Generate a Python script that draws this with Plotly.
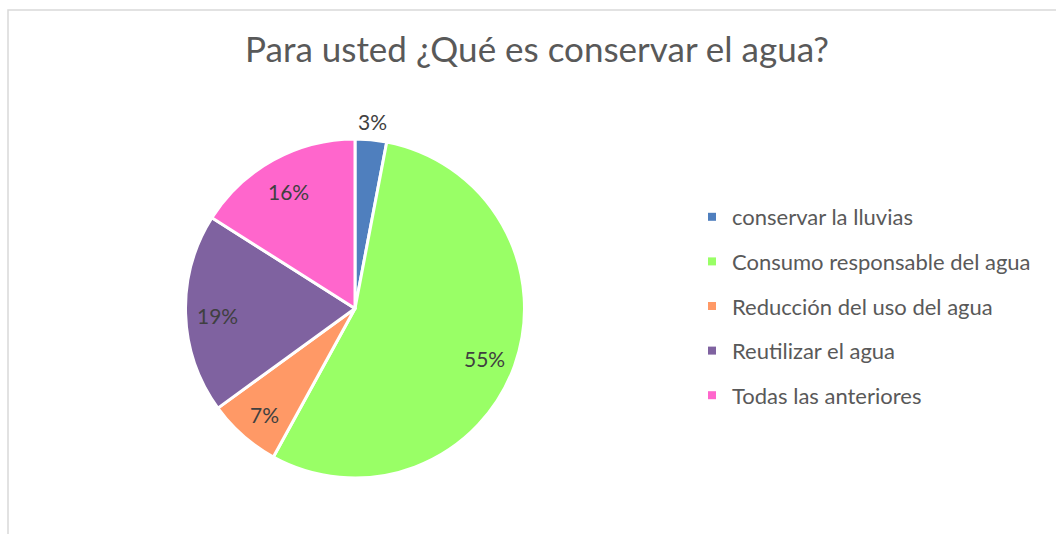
import math
import plotly.graph_objects as go

# Survey answers and their share of responses (%)
categories = [
    "conservar la lluvias",
    "Consumo responsable del agua",
    "Reducción del uso del agua",
    "Reutilizar el agua",
    "Todas las anteriores",
]
shares = [3, 55, 7, 19, 16]
colors = ["#4F7FBE", "#99FF66", "#FF9966", "#7F62A0", "#FF66CC"]
label_outside = [True, False, False, False, False]

W, H = 1056, 534
FONT = "Lato"
GREY = "#595959"
LABEL_GREY = "#404040"

# Pie placement (pixels)
pie_x0, pie_x1 = 185, 525
pie_top, pie_bottom = 139, 478
cx = (pie_x0 + pie_x1) / 2
cy = (pie_top + pie_bottom) / 2
radius = min(pie_x1 - pie_x0, pie_bottom - pie_top) / 2

fig = go.Figure()

fig.add_trace(go.Pie(
    labels=categories,
    values=shares,
    sort=False,
    direction="clockwise",
    rotation=0,
    marker=dict(colors=colors, line=dict(color="white", width=3)),
    textinfo="none",
    hoverinfo="label+percent",
    showlegend=False,
    domain=dict(x=[pie_x0 / W, pie_x1 / W], y=[1 - pie_bottom / H, 1 - pie_top / H]),
))

# Data labels placed along each slice's bisector
total = sum(shares)
annotations = []
cum = 0
for val, outside in zip(shares, label_outside):
    mid = (cum + val / 2) / total * 2 * math.pi  # clockwise from 12 o'clock
    cum += val
    r = radius * (1.11 if outside else 0.81)
    px = cx + r * math.sin(mid)
    py = cy - r * math.cos(mid) + (0 if outside else 3)
    annotations.append(dict(
        x=px / W, y=1 - py / H, xref="paper", yref="paper",
        text=f"{val}%", showarrow=False,
        xanchor="center", yanchor="middle",
        font=dict(family=FONT, size=21, color=LABEL_GREY),
    ))

# Legend entries: one group per category so the spacing can be controlled
for name, col in zip(categories, colors):
    fig.add_trace(go.Scatter(
        x=[None], y=[None], mode="markers", name=name,
        legendgroup=name,
        marker=dict(symbol="square", size=8, color=col),
        hoverinfo="skip",
    ))

fig.update_layout(
    width=W, height=H,
    margin=dict(l=0, r=0, t=0, b=0),
    paper_bgcolor="white",
    plot_bgcolor="white",
    xaxis=dict(visible=False),
    yaxis=dict(visible=False),
    title=dict(
        text="Para usted ¿Qué es conservar el agua?",
        x=537 / W, xanchor="center",
        y=1 - 50 / H, yanchor="middle",
        font=dict(family=FONT, size=35, color=GREY),
    ),
    legend=dict(
        x=692 / W, xanchor="left",
        y=1 - 196 / H, yanchor="top",
        font=dict(family=FONT, size=22, color=GREY),
        tracegroupgap=13,
        itemwidth=30,
        bgcolor="rgba(0,0,0,0)",
    ),
    annotations=annotations,
    shapes=[dict(
        type="rect", xref="paper", yref="paper",
        x0=8 / W, x1=1.01, y0=-0.01, y1=1 - 10 / H,
        line=dict(color="#D9D9D9", width=1.5),
        fillcolor="rgba(0,0,0,0)",
    )],
)

fig.write_html("out.html")
